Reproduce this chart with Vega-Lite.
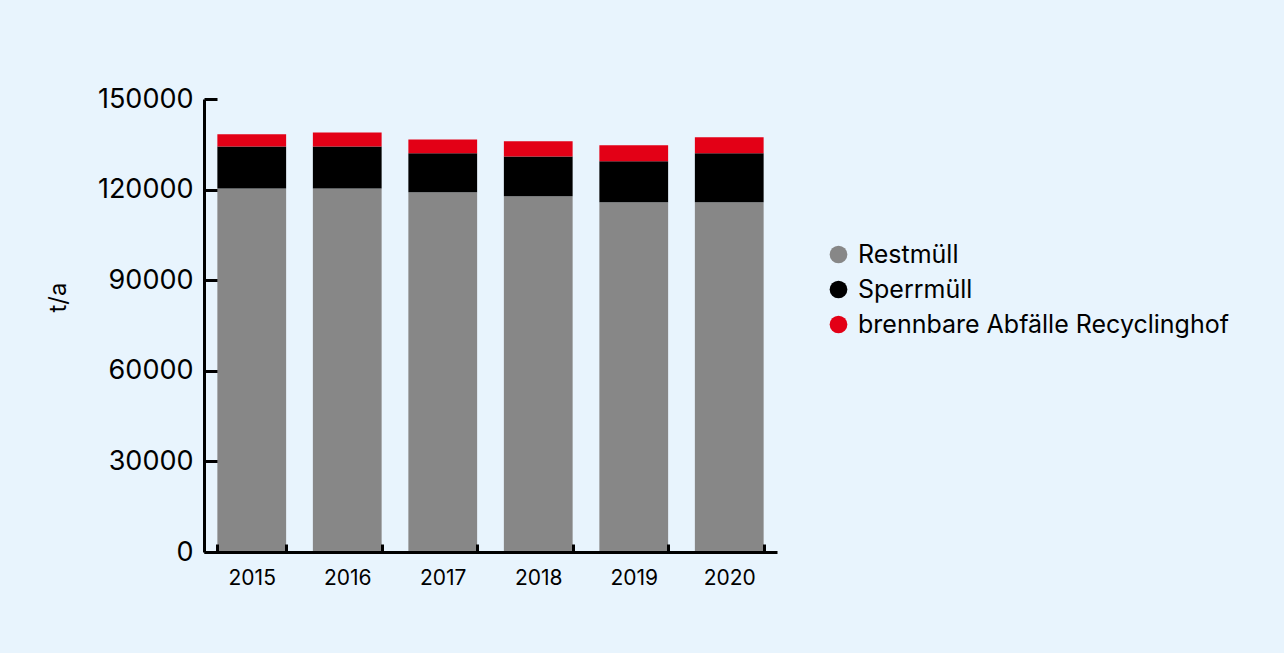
{
  "$schema": "https://vega.github.io/schema/vega-lite/v6.json",
  "width": 573,
  "height": 453,
  "autosize": "none",
  "padding": {"left": 204, "top": 99, "right": 507, "bottom": 101},
  "background": "#E8F4FD",
  "config": {
    "view": {"stroke": null},
    "font": "Inter"
  },
  "data": {
    "values": [
      {"year": "2015", "cat": "Restmüll", "ord": 1, "value": 120400},
      {"year": "2015", "cat": "Sperrmüll", "ord": 2, "value": 13900},
      {"year": "2015", "cat": "brennbare Abfälle Recyclinghof", "ord": 3, "value": 4000},
      {"year": "2016", "cat": "Restmüll", "ord": 1, "value": 120400},
      {"year": "2016", "cat": "Sperrmüll", "ord": 2, "value": 13900},
      {"year": "2016", "cat": "brennbare Abfälle Recyclinghof", "ord": 3, "value": 4600},
      {"year": "2017", "cat": "Restmüll", "ord": 1, "value": 119100},
      {"year": "2017", "cat": "Sperrmüll", "ord": 2, "value": 12900},
      {"year": "2017", "cat": "brennbare Abfälle Recyclinghof", "ord": 3, "value": 4600},
      {"year": "2018", "cat": "Restmüll", "ord": 1, "value": 117800},
      {"year": "2018", "cat": "Sperrmüll", "ord": 2, "value": 13200},
      {"year": "2018", "cat": "brennbare Abfälle Recyclinghof", "ord": 3, "value": 5000},
      {"year": "2019", "cat": "Restmüll", "ord": 1, "value": 115800},
      {"year": "2019", "cat": "Sperrmüll", "ord": 2, "value": 13600},
      {"year": "2019", "cat": "brennbare Abfälle Recyclinghof", "ord": 3, "value": 5300},
      {"year": "2020", "cat": "Restmüll", "ord": 1, "value": 115800},
      {"year": "2020", "cat": "Sperrmüll", "ord": 2, "value": 16200},
      {"year": "2020", "cat": "brennbare Abfälle Recyclinghof", "ord": 3, "value": 5300}
    ]
  },
  "mark": {"type": "bar"},
  "encoding": {
    "x": {
      "field": "year",
      "type": "ordinal",
      "scale": {"paddingInner": 0.28, "paddingOuter": 0.14},
      "axis": {
        "title": null,
        "labelAngle": 0,
        "labelFontSize": 21,
        "labelColor": "#000000",
        "labelPadding": 23,
        "tickSize": -8,
        "tickWidth": 3,
        "tickColor": "#000000",
        "tickBand": "extent",
        "domainColor": "#000000",
        "domainWidth": 3,
        "zindex": 1
      }
    },
    "y": {
      "field": "value",
      "type": "quantitative",
      "stack": "zero",
      "scale": {"domain": [0, 150000], "nice": false},
      "axis": {
        "title": "t/a",
        "titleFontSize": 24,
        "titleFontWeight": "normal",
        "titleColor": "#000000",
        "titleAngle": -90,
        "titleX": -146,
        "titleY": 198,
        "titleAlign": "center",
        "titleBaseline": "middle",
        "values": [0, 30000, 60000, 90000, 120000, 150000],
        "format": "d",
        "grid": false,
        "labelFontSize": 27,
        "labelColor": "#000000",
        "labelPadding": 24,
        "tickSize": -13,
        "tickWidth": 3,
        "tickColor": "#000000",
        "domainColor": "#000000",
        "domainWidth": 3,
        "zindex": 1
      }
    },
    "color": {
      "field": "cat",
      "type": "nominal",
      "scale": {
        "domain": ["Restmüll", "Sperrmüll", "brennbare Abfälle Recyclinghof"],
        "range": ["#878787", "#000000", "#E30016"]
      },
      "legend": {
        "title": null,
        "orient": "none",
        "legendX": 622,
        "legendY": 143,
        "symbolType": "circle",
        "symbolSize": 314,
        "symbolStrokeWidth": 0,
        "symbolOpacity": 1,
        "labelFontSize": 25,
        "labelColor": "#000000",
        "labelOffset": 7,
        "rowPadding": 9,
        "labelLimit": 600
      }
    },
    "order": {"field": "ord", "type": "quantitative"}
  }
}
